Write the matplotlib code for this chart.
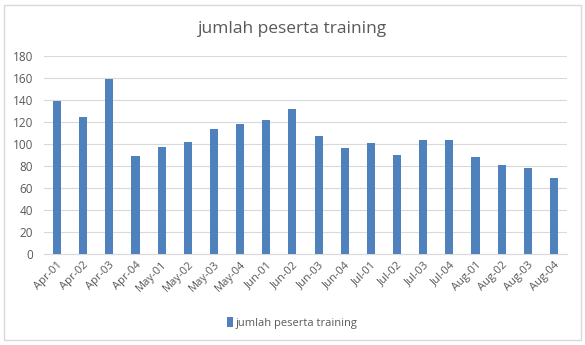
import matplotlib
matplotlib.use("Agg")
import matplotlib.pyplot as plt
from matplotlib.patches import Rectangle

weeks = ["Apr-01", "Apr-02", "Apr-03", "Apr-04", "May-01", "May-02", "May-03", "May-04",
         "Jun-01", "Jun-02", "Jun-03", "Jun-04", "Jul-01", "Jul-02", "Jul-03", "Jul-04",
         "Aug-01", "Aug-02", "Aug-03", "Aug-04"]
peserta = [139, 125, 159, 89, 97, 102, 114, 118, 122, 132, 107, 96, 101, 90, 104, 104,
           88, 81, 78, 69]
yticks = [0, 20, 40, 60, 80, 100, 120, 140, 160, 180]

plt.rcParams['font.family'] = ['Open Sans', 'DejaVu Sans']
txt = '#595959'

fig = plt.figure(figsize=(5.85, 3.45), dpi=100)
fig.patches.append(Rectangle((4/585, 5/345), 577/585, 335/345, transform=fig.transFigure,
                             fill=False, edgecolor='#d9d9d9', linewidth=1))
ax = fig.add_axes([44/585, 91/345, 523/585, 198/345])

x = range(len(weeks))
ax.bar(x, peserta, width=0.31, color='#4f81bd', label='jumlah peserta training', zorder=3)
ax.set_xlim(-0.5, len(weeks) - 0.5)
ax.set_ylim(0, 180)
ax.set_yticks(yticks)
ax.set_yticklabels([str(v) for v in yticks], fontsize=8.5, color=txt)
ax.set_xticks(list(x))
ax.set_xticklabels(weeks, rotation=45, ha='right', rotation_mode='anchor', fontsize=8, color=txt)
ax.tick_params(length=0, pad=4)
ax.tick_params(axis='y', pad=8)
ax.grid(axis='y', color='#d9d9d9', linewidth=0.8, zorder=0)
for s in ax.spines.values():
    s.set_visible(False)
ax.spines['bottom'].set_visible(True)
ax.spines['bottom'].set_color('#d9d9d9')

fig.text(0.5, 1 - 29/345, 'jumlah peserta training', ha='center', va='center',
         fontsize=12.5, color=txt)
fig.legend(loc='center', bbox_to_anchor=(0.5, 1 - 323/345), frameon=False, fontsize=8,
           handlelength=0.5, handleheight=0.9, handletextpad=0.3, labelcolor=txt)

fig.savefig('out.png', dpi=100)
